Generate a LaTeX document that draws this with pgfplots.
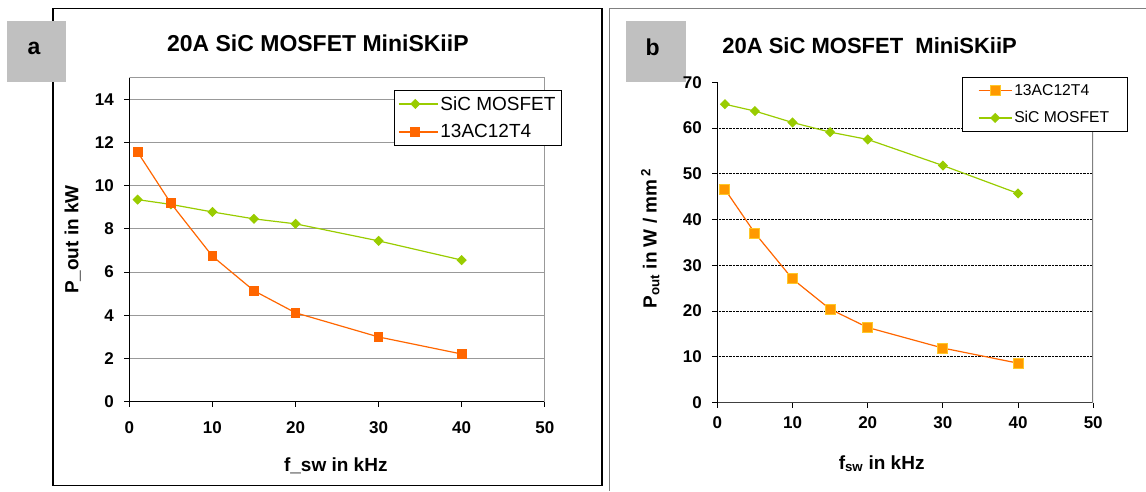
\documentclass[border=0pt]{standalone}
\usepackage{fontspec}
\setmainfont{Liberation Sans}
\usepackage{pgfplots}
\pgfplotsset{compat=1.18}

\definecolor{sicgreen}{RGB}{153,204,0}
\definecolor{igbtorange}{RGB}{255,102,0}
\definecolor{sqfill}{RGB}{255,153,0}
\definecolor{sqedge}{RGB}{255,200,40}
\definecolor{boxgray}{RGB}{192,192,192}

\newcommand{\fs}[1]{\fontsize{#1}{#1}\selectfont}

\pgfplotsset{
  panel/.style={
    scale only axis,
    anchor=south west,
    xmin=0, xmax=50, ymin=0,
    xtick={0,10,...,50},
    axis lines=left,
    axis line style={-, line width=1pt},
    tick align=outside,
    major tick length=5pt,
    tick style={black, line width=0.8pt},
    /pgf/number format/assume math mode=true,
    ticklabel style={font=\fs{17}\bfseries},
    legend cell align=left,
  },
}

\begin{document}
\begin{tikzpicture}[x=1pt, y=1pt]
\path (0,0) rectangle (1146,491);

% panel frames
\draw[black, line width=1.3pt] (53,482.7) -- (53,5.3) -- (602,5.3);
\draw[black, line width=1.3pt] (53,482.7) -- (602,482.7);
\draw[black, line width=1.8pt] (602.3,482.7) -- (602.3,4.9);
\draw[gray, line width=1pt] (1146,482) -- (610,482) -- (610,0);

% panel letters
\fill[boxgray] (7,470) rectangle (66,409);
\node[font=\fs{23}\bfseries] at (34,443) {a};
\fill[boxgray] (626,470) rectangle (686,409);
\node[font=\fs{23}\bfseries] at (653,444) {b};

% titles
\node[font=\fs{23}\bfseries] at (318,447.7) {20A SiC MOSFET MiniSKiiP};
\node[font=\fs{22}\bfseries] at (870,445.3) {20A SiC MOSFET\ \ MiniSKiiP};

\begin{axis}[panel,
  at={(129.4pt,89.3pt)},
  width=415.6pt, height=324pt,
  ymax=15, ytick={0,2,...,14},
  ymajorgrids,
  major grid style={gray!80, line width=0.8pt},
  xticklabel style={yshift=-12pt},
  yticklabel style={xshift=-7pt},
  xlabel={f\_sw in kHz},
  ylabel={P\_out in kW},
  every axis x label/.style={at={(axis description cs:0.497,-0.1975)}, anchor=center, font=\fs{19}\bfseries},
  every axis y label/.style={at={(axis description cs:-0.1365,0.5)}, rotate=90, anchor=center, font=\fs{19}\bfseries},
  legend image code/.code={
    \path (0pt,0pt) -- (39pt,0pt);
    \draw[mark repeat=2, mark phase=2] plot coordinates {(0pt,0pt) (16.5pt,0pt) (33pt,0pt)};
  },
  legend style={at={(axis description cs:0.6367,0.962)}, anchor=north west,
    draw=black, line width=0.8pt, font=\fs{19}, row sep=9pt, inner xsep=4pt, inner ysep=4pt},
]
\addplot[sicgreen, line width=1.2pt, mark=square*, mark size=3pt, mark options={solid, rotate=45, fill=sicgreen}]
  coordinates {(1,9.35) (5,9.13) (10,8.78) (15,8.46) (20,8.23) (30,7.44) (40,6.55)};
\addlegendentry{SiC MOSFET}
\addplot[igbtorange, line width=1.2pt, mark=square*, mark size=4.3pt, mark options={solid, fill=igbtorange}]
  coordinates {(1,11.55) (5,9.18) (10,6.73) (15,5.13) (20,4.11) (30,2.99) (40,2.2)};
\addlegendentry{13AC12T4}
\draw[gray!80, line width=1pt] (rel axis cs:0,1) -- (rel axis cs:1,1) -- (rel axis cs:1,0);
\end{axis}

\begin{axis}[panel,
  at={(717.7pt,88.3pt)},
  width=376pt, height=320.4pt,
  ymax=70, ytick={0,10,...,70},
  extra y ticks={10,20,...,60},
  extra y tick labels={},
  extra y tick style={ymajorgrids=true},
  major grid style={black, densely dotted, line width=0.6pt},
  x axis line style={darkgray},
  xticklabel style={yshift=-6pt},
  yticklabel style={xshift=-7pt},
  xlabel={f\textsubscript{sw} in kHz},
  ylabel={P\textsubscript{out} in W / mm\,\textsuperscript{2}},
  every axis x label/.style={at={(axis description cs:0.437,-0.191)}, anchor=center, font=\fs{19}\bfseries},
  every axis y label/.style={at={(axis description cs:-0.1787,0.5125)}, rotate=90, anchor=center, font=\fs{19}\bfseries},
  legend image code/.code={
    \draw[mark repeat=2, mark phase=2] plot coordinates {(0pt,0pt) (16.5pt,0pt) (33pt,0pt)};
  },
  legend style={at={(axis description cs:0.65,1.0175)}, anchor=north west,
    draw=black, line width=0.8pt, font=\fs{15.7}, row sep=11pt, inner xsep=16pt, inner ysep=5pt},
]
\draw[gray, line width=1.5pt] (rel axis cs:1,1) -- (rel axis cs:1,0);
\addplot[igbtorange, line width=1.2pt, mark=square*, mark size=5pt, mark options={solid, fill=sqfill, draw=sqedge, line width=1pt}]
  coordinates {(1,46.6) (5,37.0) (10,27.0) (15,20.4) (20,16.4) (30,11.9) (40,8.6)};
\addlegendentry{13AC12T4}
\addplot[sicgreen, line width=1.2pt, mark=square*, mark size=3pt, mark options={solid, rotate=45, fill=sicgreen}]
  coordinates {(1,65.2) (5,63.7) (10,61.2) (15,59.1) (20,57.5) (30,51.8) (40,45.7)};
\addlegendentry{SiC MOSFET}
\end{axis}
\end{tikzpicture}
\end{document}
